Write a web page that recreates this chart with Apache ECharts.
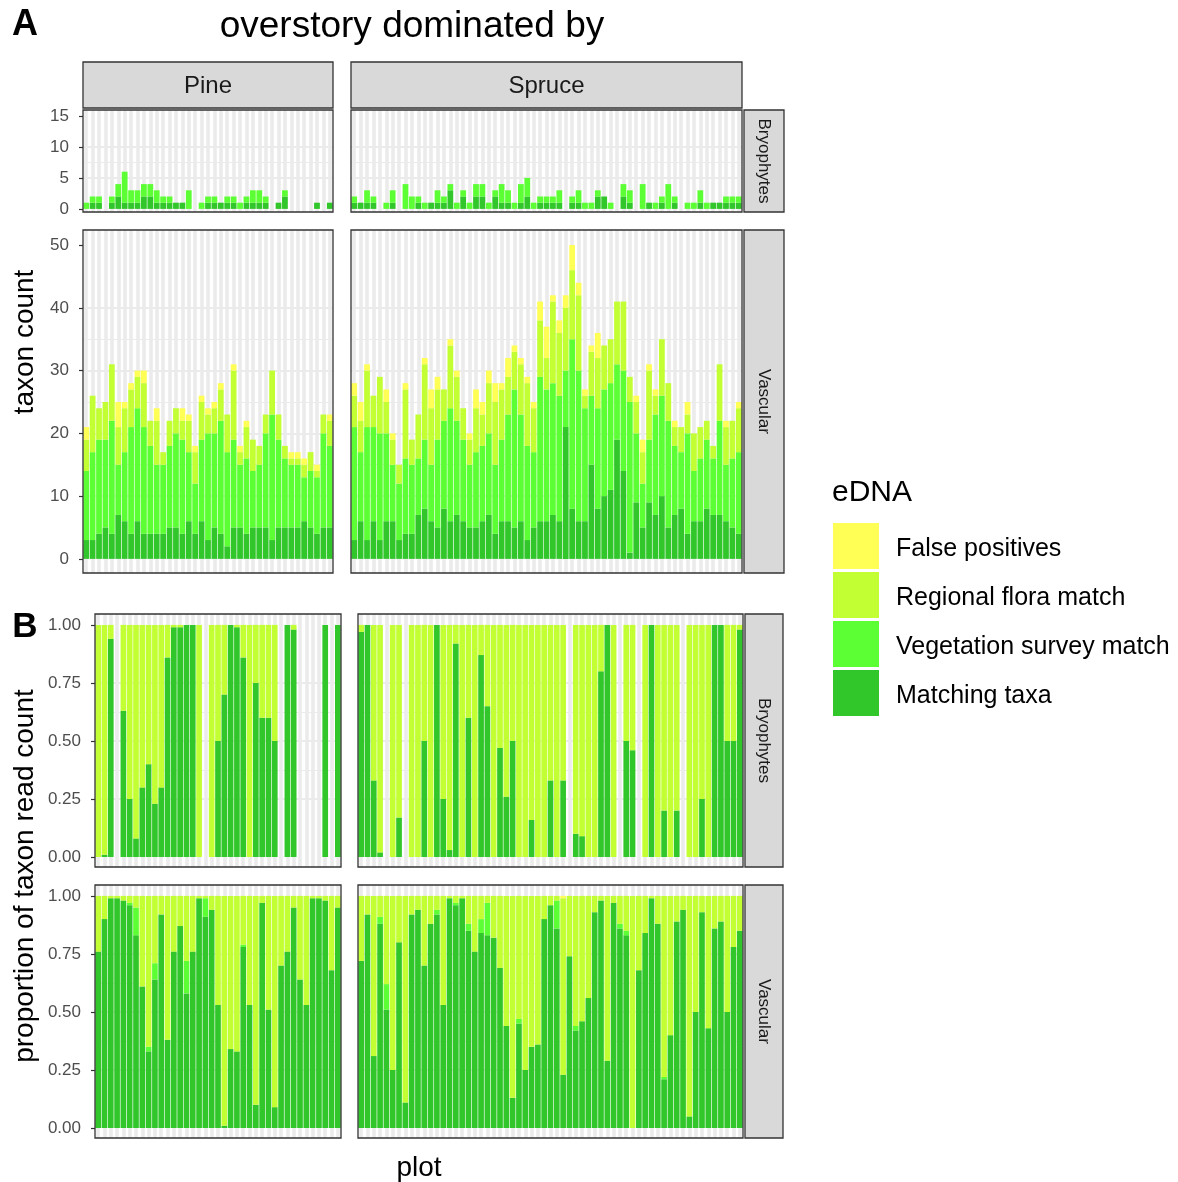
<!DOCTYPE html>
<html><head><meta charset="utf-8">
<script src="https://cdn.jsdelivr.net/npm/echarts@6/dist/echarts.min.js"></script>
<style>html,body{margin:0;padding:0;background:#fff}#c{width:1178px;height:1182px}</style>
</head><body><div id="c"></div>
<script>
// ---------- categories ----------
const pinePlots = ['P1','P2','P3','P4','P5','P6','P7','P8','P9','P10','P11','P12','P13','P14','P15','P16','P17','P18','P19','P20','P21','P22','P23','P24','P25','P26','P27','P28','P29','P30','P31','P32','P33','P34','P35','P36','P37','P38','P39'];
const sprucePlots = ['S1','S2','S3','S4','S5','S6','S7','S8','S9','S10','S11','S12','S13','S14','S15','S16','S17','S18','S19','S20','S21','S22','S23','S24','S25','S26','S27','S28','S29','S30','S31','S32','S33','S34','S35','S36','S37','S38','S39','S40','S41','S42','S43','S44','S45','S46','S47','S48','S49','S50','S51','S52','S53','S54','S55','S56','S57','S58','S59','S60','S61'];

// ---------- Panel A: taxon counts ----------
const pineBryoMatching = [0,1,1,0,1,2,1,1,1,2,2,1,1,1,1,1,0,0,0,1,1,1,1,1,0,1,1,1,1,0,1,2,0,0,0,0,1,0,1];
const pineBryoVeg      = [1,1,1,0,1,2,5,2,2,2,2,2,1,1,0,0,3,0,1,1,1,0,1,1,1,1,2,2,1,0,0,1,0,0,0,0,0,0,0];
const spruceBryoMatching = [1,1,1,1,0,0,1,0,0,0,1,0,1,1,1,3,0,2,0,2,2,0,2,1,1,0,1,2,0,1,1,1,1,0,1,1,0,0,2,2,0,0,2,1,0,0,1,0,1,0,1,0,0,0,1,0,1,1,1,1,1];
const spruceBryoVeg      = [1,0,2,1,0,1,2,0,4,2,1,1,0,2,1,1,1,1,1,2,2,1,1,3,2,1,3,3,1,1,1,1,2,0,1,2,1,1,1,0,1,0,2,2,0,4,0,1,1,4,1,0,1,1,2,1,0,0,1,1,1];

const pineVascMatching = [3,3,4,5,4,7,6,4,6,4,4,4,4,5,5,4,6,4,6,3,5,4,2,5,5,4,5,5,5,3,5,5,5,5,6,5,4,5,5];
const pineVascVeg      = [11,14,15,14,18,8,11,17,18,17,14,11,11,13,15,15,11,8,13,17,15,18,15,14,10,12,9,10,15,20,14,11,10,10,7,9,9,15,13];
const pineVascRegional = [5,9,5,6,9,6,7,6,5,7,4,7,2,4,4,3,5,5,6,3,4,5,6,11,2,5,5,3,3,7,4,2,1,1,2,3,1,3,4];
const pineVascFP       = [2,0,0,0,0,4,1,1,1,2,0,2,0,0,0,2,1,1,1,1,1,1,0,1,1,1,0,0,0,0,0,0,1,1,1,0,1,0,1];

const spruceVascMatching = [3,6,3,6,3,6,6,3,4,4,7,8,6,5,8,6,7,6,5,5,6,7,4,6,6,5,6,3,5,6,6,7,6,21,8,6,6,15,8,10,11,19,14,1,9,5,9,7,10,5,7,8,4,6,6,8,7,7,6,5,4];
const spruceVascVeg      = [18,11,18,15,17,14,9,9,12,11,9,11,9,14,14,18,15,13,10,12,12,13,11,13,17,22,17,15,12,23,21,21,20,9,27,24,18,11,16,17,17,12,16,24,11,7,10,16,16,17,11,9,16,8,10,11,9,15,9,11,13];
const spruceVascRegional = [5,5,9,5,9,5,4,3,11,4,7,12,9,8,5,10,7,5,4,7,5,8,10,8,6,6,8,10,7,9,5,13,10,10,11,12,2,7,8,7,7,10,11,4,5,5,11,3,9,6,3,4,3,6,5,3,2,9,6,6,7];
const spruceVascFP       = [2,3,1,0,0,2,1,0,1,0,0,1,3,2,0,1,1,0,1,3,2,2,3,1,3,1,1,1,1,3,5,1,2,2,4,2,1,1,4,0,0,0,0,0,1,2,1,1,0,0,1,0,2,0,0,0,0,0,1,0,1];

// ---------- Panel B: proportion of read count ----------
const pineBryoPropMatching = [0,0.01,0.94,0,0.63,0.25,0.08,0.30,0.40,0.23,0.30,0.86,0.99,0.99,1,1,0,0,0,0.50,0.70,1,0.99,0.86,0,0.75,0.60,0.60,0.50,0,1,0.98,0,0,0,0,1,0,1];
const pineBryoPropRegional = [1,0.99,0.06,0,0.37,0.75,0.92,0.70,0.60,0.77,0.70,0.14,0.01,0.01,0,0,1,0,1,0.50,0.30,0,0.01,0.14,1,0.25,0.40,0.40,0.50,0,0,0.02,0,0,0,0,0,0,0];
const spruceBryoPropMatching = [0.97,1,0.33,0.02,0,0,0.17,0,0,0,0.50,0,1,0.25,0.03,0.92,0,0.60,0,0.87,0.65,0,0.47,0.26,0.50,0,0,0.16,0,0,0.33,0,0.33,0,0.10,0.09,0,0,0.80,1,0,0,0.50,0.46,0,0,1,0,0.20,0,0.20,0,0,0,0.25,0,1,1,0.50,0.50,0.98];
const spruceBryoPropRegional = [0.03,0,0.67,0.98,0,1,0.83,0,1,1,0.50,1,0,0.75,0.97,0.08,1,0.40,1,0.13,0.35,1,0.53,0.74,0.50,1,1,0.84,1,1,0.67,1,0.67,0,0.90,0.91,1,1,0.20,0,1,0,0.50,0.54,0,1,0,1,0.80,1,0.80,0,1,1,0.75,1,0,0,0.50,0.50,0.02];

const pineVascPropMatching = [0.76,0.90,0.99,0.99,0.98,0.96,0.83,0.61,0.33,0.64,0.92,0.38,0.76,0.87,0.58,0.76,0.99,0.91,0.94,0.53,0.01,0.34,0.33,0.78,0.53,0.10,0.97,0.51,0.09,0.70,0.76,0.95,0.64,0.53,0.99,0.99,0.98,0.68,0.95];
const pineVascPropVeg      = [0,0,0,0,0,0.01,0.12,0,0.02,0.07,0,0,0,0,0.14,0,0,0.08,0,0,0,0,0,0.01,0,0,0,0,0,0,0,0,0,0,0,0,0,0,0];
const pineVascPropRegional = [0.24,0.10,0.01,0.01,0.02,0.03,0.05,0.39,0.65,0.29,0.08,0.62,0.24,0.13,0.28,0.24,0.01,0.01,0.06,0.47,0.99,0.66,0.67,0.21,0.47,0.90,0.03,0.49,0.91,0.30,0.24,0.05,0.36,0.47,0.01,0.01,0.02,0.32,0.05];

const spruceVascPropMatching = [0.72,0.92,0.31,0.88,0.51,0.25,0.80,0.11,0.92,0.94,0.70,0.88,0.92,0.53,0.99,0.96,0.99,0.85,0.76,0.84,0.83,0.82,0.69,0.44,0.13,0.45,0.25,0.35,0.36,0.90,0.96,0.86,0.23,0.74,0.42,0.46,0.56,0.93,0.98,0.29,0.97,0.86,0.83,0,0.68,0.84,0.99,0.88,0.21,0.40,0.89,0.94,0.05,0.50,0.93,0.43,0.86,0.89,0.50,0.78,0.85];
const spruceVascPropVeg      = [0,0,0,0.03,0.11,0,0,0,0,0,0,0,0.02,0,0,0.01,0,0.03,0,0.06,0.14,0,0,0,0,0.02,0,0,0,0,0,0.12,0,0,0.02,0,0,0,0,0,0,0.02,0.02,0,0,0,0,0,0.01,0,0,0,0,0,0,0,0,0,0,0,0];
const spruceVascPropRegional = [0.28,0.08,0.69,0.09,0.38,0.75,0.20,0.89,0.08,0.06,0.30,0.12,0.06,0.47,0.01,0.03,0.01,0.12,0.24,0.10,0.03,0.18,0.31,0.56,0.87,0.53,0.75,0.65,0.64,0.10,0.04,0.02,0.76,0.26,0.56,0.54,0.44,0.07,0.02,0.71,0.03,0.12,0.15,1,0.32,0.16,0.01,0.12,0.78,0.60,0.11,0.06,0.95,0.50,0.07,0.57,0.14,0.11,0.50,0.22,0.15];
const spruceVascPropFP       = [0,0,0,0,0,0,0,0,0,0,0,0,0,0,0,0,0,0,0,0,0,0,0,0,0,0,0,0,0,0,0,0,0.01,0,0,0,0,0,0,0,0,0,0,0,0,0,0,0,0,0,0,0,0,0,0,0,0,0,0,0,0];

// ---------- labels ----------
const legendOrder = ['False positives','Regional flora match','Vegetation survey match','Matching taxa'];
const forestLabels = ['Pine','Spruce'];
const groupLabels = ['Bryophytes','Vascular'];

// ---------- style ----------
const FONT = '"Liberation Sans", Arial, Helvetica, sans-serif';
const COL = {
  'Matching taxa': '#31C62A',
  'Vegetation survey match': '#5CFF33',
  'Regional flora match': '#C2FF33',
  'False positives': '#FFFF55'
};
const GRID_COL = '#EBEBEB';
const BORDER = '#333333';

const yA_bryo = {min:-0.5, max:15.95, major:5, minor:2.5, majors:[0,5,10,15], minors:[2.5,7.5,12.5], fmt:v=>String(v)};
const yA_vasc = {min:-2.25, max:52.4, major:10, minor:5, majors:[0,10,20,30,40,50], minors:[5,15,25,35,45], fmt:v=>String(v)};
const yB = {min:-0.043, max:1.047, major:0.25, minor:0.125, majors:[0,0.25,0.5,0.75,1], minors:[0.125,0.375,0.625,0.875], fmt:v=>Number(v).toFixed(2)};

const panels = [
  {left:83,  top:110, width:250, height:102, cats:pinePlots,   y:yA_bryo, lab:true,  s:{'Matching taxa':pineBryoMatching,'Vegetation survey match':pineBryoVeg}},
  {left:351, top:110, width:391, height:102, cats:sprucePlots, y:yA_bryo, lab:false, s:{'Matching taxa':spruceBryoMatching,'Vegetation survey match':spruceBryoVeg}},
  {left:83,  top:230, width:250, height:343, cats:pinePlots,   y:yA_vasc, lab:true,  s:{'Matching taxa':pineVascMatching,'Vegetation survey match':pineVascVeg,'Regional flora match':pineVascRegional,'False positives':pineVascFP}},
  {left:351, top:230, width:391, height:343, cats:sprucePlots, y:yA_vasc, lab:false, s:{'Matching taxa':spruceVascMatching,'Vegetation survey match':spruceVascVeg,'Regional flora match':spruceVascRegional,'False positives':spruceVascFP}},
  {left:95,  top:614, width:246, height:253, cats:pinePlots,   y:yB, lab:true,  s:{'Matching taxa':pineBryoPropMatching,'Regional flora match':pineBryoPropRegional}},
  {left:358, top:614, width:385, height:253, cats:sprucePlots, y:yB, lab:false, s:{'Matching taxa':spruceBryoPropMatching,'Regional flora match':spruceBryoPropRegional}},
  {left:95,  top:885, width:246, height:253, cats:pinePlots,   y:yB, lab:true,  s:{'Matching taxa':pineVascPropMatching,'Vegetation survey match':pineVascPropVeg,'Regional flora match':pineVascPropRegional}},
  {left:358, top:885, width:385, height:253, cats:sprucePlots, y:yB, lab:false, s:{'Matching taxa':spruceVascPropMatching,'Vegetation survey match':spruceVascPropVeg,'Regional flora match':spruceVascPropRegional,'False positives':spruceVascPropFP}}
];
const stackOrder = ['Matching taxa','Vegetation survey match','Regional flora match','False positives'];

const grid = [], xAxis = [], yAxis = [], series = [], graphic = [];
panels.forEach((p, i) => {
  grid.push({left:p.left, top:p.top, width:p.width, height:p.height, show:false, containLabel:false});
  xAxis.push({
    type:'category', gridIndex:i, data:p.cats, boundaryGap:true,
    axisLine:{show:false}, axisTick:{show:false}, axisLabel:{show:false},
    splitLine:{show:true, interval:0, alignWithLabel:true, lineStyle:{color:GRID_COL, width:3.6}}
  });
  // major axis (labels, ticks, major grid)
  yAxis.push({
    type:'value', gridIndex:i, min:p.y.min, max:p.y.max,
    minInterval:p.y.major, maxInterval:p.y.major, splitNumber:5,
    axisLine:{show:false},
    axisTick:{show:p.lab, length:4, lineStyle:{color:BORDER, width:1.2}, customValues:p.y.majors},
    axisLabel:{show:p.lab, fontSize:17, color:'#4D4D4D', fontFamily:FONT, margin:14,
               customValues:p.y.majors, formatter:p.y.fmt},
    splitLine:{show:true, showMinLine:false, showMaxLine:false, lineStyle:{color:GRID_COL, width:2.2}}
  });
  // minor grid axis
  yAxis.push({
    type:'value', gridIndex:i, min:p.y.min, max:p.y.max,
    minInterval:p.y.minor, maxInterval:p.y.minor, splitNumber:10,
    axisLine:{show:false}, axisTick:{show:false, customValues:p.y.minors},
    axisLabel:{show:false},
    splitLine:{show:true, showMinLine:false, showMaxLine:false, lineStyle:{color:GRID_COL, width:1.2}}
  });
  stackOrder.forEach(name => {
    if (!p.s[name]) return;
    series.push({
      type:'bar', name:name, xAxisIndex:i, yAxisIndex:2*i, stack:'st'+i,
      data:p.s[name], barCategoryGap:'10%',
      itemStyle:{color:COL[name]}, emphasis:{disabled:true}, silent:true
    });
  });
  // panel border
  graphic.push({type:'rect', z:100, silent:true,
    shape:{x:p.left, y:p.top, width:p.width, height:p.height},
    style:{fill:'rgba(0,0,0,0)', stroke:BORDER, lineWidth:1.3}});
});

function text(t, x, y, size, o) {
  o = o || {};
  return {type:'text', x:x, y:y, rotation:o.rot || 0, z:101, silent:true,
    style:{text:t, x:0, y:0, font:(o.bold?'bold ':'')+size+'px '+FONT, fill:o.color || '#000',
      align:o.align || 'center', verticalAlign:'middle', textAlign:o.align || 'center', textVerticalAlign:'middle'}};
}
function strip(x, y, w, h) {
  return {type:'rect', z:99, silent:true, shape:{x:x, y:y, width:w, height:h},
    style:{fill:'#D9D9D9', stroke:BORDER, lineWidth:1.3}};
}
// top strips (panel A)
graphic.push(strip(83, 62, 250, 46), text(forestLabels[0], 208, 86, 24, {color:'#1A1A1A'}));
graphic.push(strip(351, 62, 391, 46), text(forestLabels[1], 546.5, 86, 24, {color:'#1A1A1A'}));
// right strips
[[744,110,40,102,groupLabels[0]],[744,230,40,343,groupLabels[1]],[745,614,38,253,groupLabels[0]],[745,885,38,253,groupLabels[1]]].forEach(s => {
  graphic.push(strip(s[0], s[1], s[2], s[3]), text(s[4], s[0]+s[2]/2, s[1]+s[3]/2, 17, {rot:-Math.PI/2, color:'#1A1A1A'}));
});
// titles
graphic.push(text('A', 25, 25, 36, {bold:true}));
graphic.push(text('B', 25, 627, 35, {bold:true}));
graphic.push(text('overstory dominated by', 412, 27, 37));
graphic.push(text('taxon count', 25, 342, 28, {rot:Math.PI/2}));
graphic.push(text('proportion of taxon read count', 25, 876, 28, {rot:Math.PI/2}));
graphic.push(text('plot', 419, 1168, 28));
graphic.push(text('eDNA', 832, 493, 30, {align:'left'}));

const chart = echarts.init(document.getElementById('c'), null, {renderer:'canvas'});
chart.setOption({
  animation:false,
  backgroundColor:'#ffffff',
  textStyle:{fontFamily:FONT},
  grid:grid, xAxis:xAxis, yAxis:yAxis, series:series,
  legend:{
    orient:'vertical', left:833, top:523, padding:0, itemWidth:46, itemHeight:46, itemGap:3,
    icon:'rect', selectedMode:false, data:legendOrder,
    formatter: name => '{t|' + name + '}',
    textStyle:{fontSize:25, color:'#000', fontFamily:FONT,
      rich:{t:{fontSize:25, color:'#000', fontFamily:FONT, padding:[6,0,0,12]}}}
  },
  graphic:{elements:graphic}
});
</script>
</body></html>
